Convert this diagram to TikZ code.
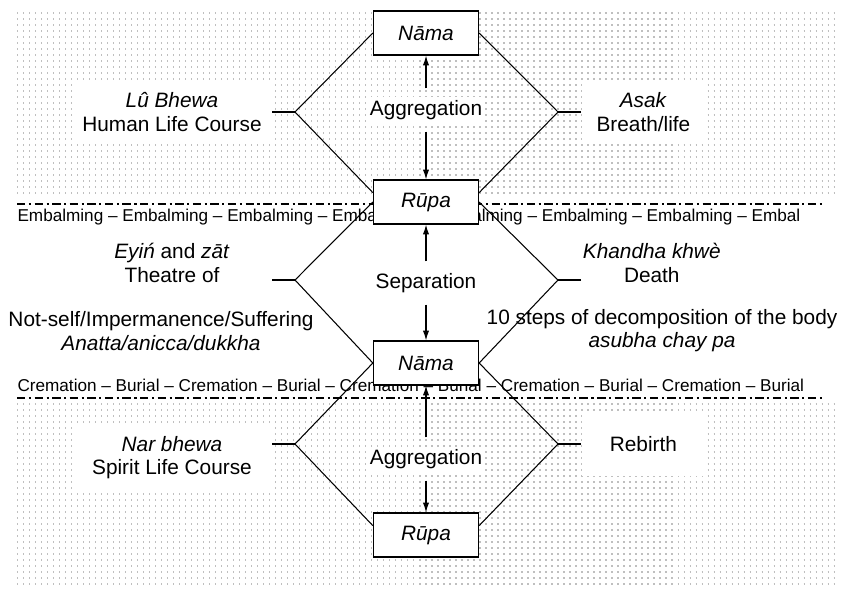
\documentclass[tikz,border=0pt]{standalone}
\usepackage{fontspec}
\setmainfont{Liberation Sans}
\usetikzlibrary{arrows.meta}
\tikzset{
  term/.style={draw, fill=white, line width=0.9pt, minimum width=74.7pt, minimum height=31.3pt, inner sep=0pt, font=\fontsize{14.8}{16.5}\selectfont\itshape},
  proc/.style={fill=white, inner sep=2pt, outer sep=6.5pt},
  lside/.style={fill=white, align=center, anchor=east, minimum width=141.5pt, minimum height=46pt, inner sep=1pt},
  rside/.style={fill=white, align=center, anchor=west, minimum width=88pt, minimum height=46pt, inner sep=1pt},
  note/.style={align=center, inner sep=1pt},
  band/.style={anchor=west, inner sep=0pt, font=\fontsize{12.2}{14}\selectfont},
  dotrow/.style={black!25, line width=0.85pt, dash pattern=on 0.85pt off 3.42pt},
  divider/.style={line width=1.7pt, dash pattern=on 6pt off 2.5pt on 1.5pt off 2.5pt},
}
\begin{document}
\begin{tikzpicture}[x=0.025cm, y=-0.025cm, >={Latex[length=7pt,width=4.5pt]}, line width=0.75pt, font=\fontsize{14.8}{16.5}\selectfont]
    \useasboundingbox (0,0) rectangle (841,588);
    \foreach \y in {13,19,...,193} \draw[dotrow] (17,\y) -- (839,\y);
    \foreach \y in {404,410,...,584} \draw[dotrow] (17,\y) -- (839,\y);
    \draw[divider] (17,204) -- (825,204);
    \draw[divider] (17,398) -- (825,398);
    \node[band] (emb) at (17,217) {Embalming – Embalming – Embalming – Embalming – Embalming – Embalming – Embalming – Embal};
    \node[band] (crem) at (17,385) {Cremation – Burial – Cremation – Burial – Cremation – Burial – Cremation – Burial – Cremation – Burial};
    \node[term] (nama1) at (426,33) {Nāma};
    \node[term] (rupa1) at (426,202) {Rūpa};
    \node[term] (nama2) at (426,363) {Nāma};
    \node[term] (rupa2) at (426,535) {Rūpa};
    \coordinate (vl1) at (295,112); \coordinate (vr1) at (558,112);
    \coordinate (vl2) at (295,280); \coordinate (vr2) at (558,280);
    \coordinate (vl3) at (295,444); \coordinate (vr3) at (558,444);
    \draw (nama1.west) -- (vl1) -- (rupa1.170);
    \draw (nama1.east) -- (vr1) -- (rupa1.10);
    \draw (rupa1.west) -- (vl2) -- (nama2.west);
    \draw (rupa1.east) -- (vr2) -- (nama2.east);
    \draw (nama2.west) -- (vl3) -- (rupa2.170);
    \draw (nama2.east) -- (vr3) -- (rupa2.10);
    \node[lside] (human) at (272,112) {\textit{Lû Bhewa}\\Human Life Course};
    \node[rside] (asak) at (581,112) {\textit{Asak}\\Breath/life};
    \node[lside] (theatre) at (272,263) {\textit{Eyiń} and \textit{zāt}\\Theatre of};
    \node[rside] (death) at (581,263) {\textit{Khandha khwè}\\Death};
    \node[note] (anatta) at (161,331) {Not-self/Impermanence/Suffering\\\textit{Anatta/anicca/dukkha}};
    \node[note] (asubha) at (662,331) {10 steps of decomposition of the body\\\textit{asubha chay pa}};
    \node[lside] (spirit) at (272,458) {\textit{Nar bhewa}\\Spirit Life Course};
    \node[rside] (rebirth) at (581,444) {Rebirth};
    \draw (human.east) -- (vl1); \draw (asak.west) -- (vr1);
    \draw (theatre.east |- vl2) -- (vl2); \draw (death.west |- vr2) -- (vr2);
    \draw (spirit.east |- vl3) -- (vl3); \draw (rebirth.west) -- (vr3);
    \node[proc] (agg1) at (426,110) {Aggregation};
    \node[proc] (sep) at (426,283) {Separation};
    \node[proc] (agg2) at (426,459) {Aggregation};
    \draw[->] (agg1) -- (nama1); \draw[->] (agg1) -- (rupa1);
    \draw[->] (sep) -- (rupa1); \draw[->] (sep) -- (nama2);
    \draw[->] (agg2) -- (nama2); \draw[->] (agg2) -- (rupa2);
\end{tikzpicture}
\end{document}
